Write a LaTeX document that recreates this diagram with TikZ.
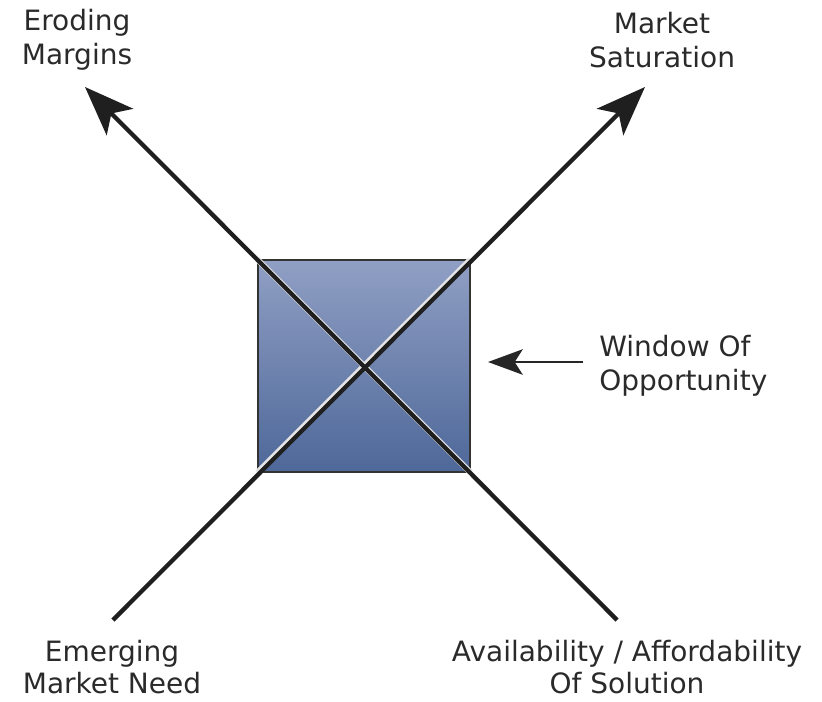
\documentclass[tikz,border=0pt]{standalone}
\usepackage{fontspec}
\setmainfont{DejaVu Sans}
\usetikzlibrary{arrows.meta}
\definecolor{sqtop}{HTML}{909FC4}
\definecolor{sqbot}{HTML}{4E6899}
\definecolor{txt}{HTML}{2A2A2A}
\begin{document}
\begin{tikzpicture}[x=0.75pt,y=-0.75pt,
  lbl/.style={font=\fontsize{21}{25.5}\selectfont, text=txt, inner sep=0pt},
  lblb/.style={font=\fontsize{21}{24}\selectfont, text=txt, inner sep=0pt},
  axis/.style={line width=3.2pt, draw=black!88, -{Stealth[length=37pt,width=28pt,inset=9pt]}},
  halo/.style={line width=4.4pt, draw=white!80!gray},
  pointer/.style={line width=2.2pt, draw=black!85, -{Stealth[length=26pt,width=19pt,inset=6pt]}}]
\useasboundingbox (0,0) rectangle (822,701);
\node[draw=black!80, line width=0.9pt, top color=sqtop, bottom color=sqbot,
  minimum size=159pt, inner sep=0pt] (win) at (364,366) {};
\coordinate (bl) at (113,620);
\coordinate (tr) at (645,87);
\coordinate (br) at (617,620);
\coordinate (tl) at (85,87);
\draw[halo] (win.south west) -- (win.north east);
\draw[halo] (win.south east) -- (win.north west);
\draw[axis] (bl) -- (tr);
\draw[axis] (br) -- (tl);
\coordinate (ptail) at (583,362);
\coordinate (phead) at (488,362);
\draw[pointer] (ptail) -- (phead);
\node[lbl, align=center] (em) at (77,40) {Eroding\\Margins};
\node[lbl, align=center] (ms) at (662,40) {Market\\Saturation};
\node[lbl, align=left, anchor=west] (wo) at (599,366) {Window Of\\Opportunity};
\node[lblb, align=center] (emn) at (112,667) {Emerging\\Market Need};
\node[lblb, align=center] (aa) at (627,667) {Availability / Affordability\\Of Solution};
\end{tikzpicture}
\end{document}
